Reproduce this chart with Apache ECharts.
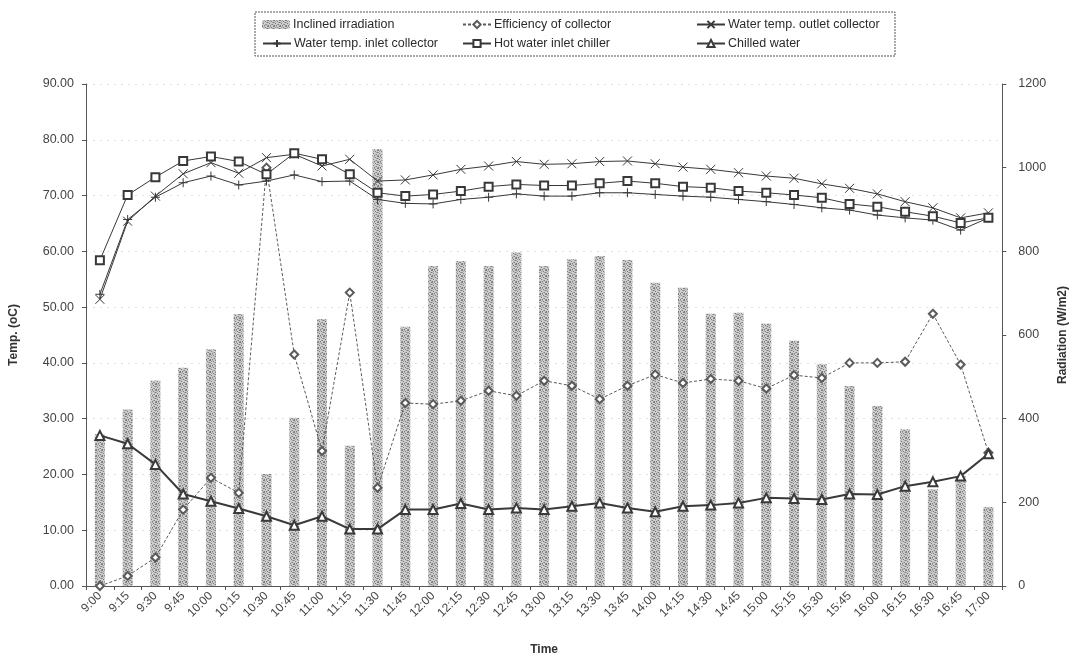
<!DOCTYPE html>
<html>
<head>
<meta charset="utf-8">
<title>Solar collector and chiller temperatures</title>
<script src="https://cdn.jsdelivr.net/npm/echarts@6/dist/echarts.min.js"></script>
<style>
  html, body { margin: 0; padding: 0; background: #ffffff; }
  #chart { width: 1077px; height: 662px; }
</style>
</head>
<body>
<div id="chart"></div>
<script>
// Time of day, every 15 minutes
const times = ['9:00','9:15','9:30','9:45','10:00','10:15','10:30','10:45','11:00','11:15','11:30','11:45',
  '12:00','12:15','12:30','12:45','13:00','13:15','13:30','13:45','14:00','14:15','14:30','14:45',
  '15:00','15:15','15:30','15:45','16:00','16:15','16:30','16:45','17:00'];

// Inclined irradiation (W/m2), right axis
const irradiation = [363, 422, 491, 522, 566, 650, 268, 402, 638, 335, 1044, 620,
  765, 777, 765, 797, 765, 781, 789, 779, 725, 713, 651, 653,
  627, 586, 530, 478, 430, 375, 231, 263, 189];

// Efficiency of collector (%), left axis
const efficiency = [0, 1.8, 5.1, 13.7, 19.4, 16.7, 75.0, 41.5, 24.2, 52.6, 17.6, 32.8,
  32.6, 33.2, 35.0, 34.1, 36.8, 35.9, 33.5, 35.9, 37.9, 36.4, 37.1, 36.8,
  35.4, 37.8, 37.3, 40.0, 40.0, 40.2, 48.8, 39.7, 23.9];

// Water temperature at collector outlet (oC)
const outletCollector = [51.4, 65.4, 69.9, 73.9, 75.9, 74.0, 76.8, 77.4, 75.3, 76.5, 72.6, 72.8,
  73.7, 74.7, 75.3, 76.1, 75.6, 75.7, 76.1, 76.2, 75.7, 75.1, 74.7, 74.1,
  73.5, 73.1, 72.1, 71.3, 70.3, 68.9, 67.8, 66.0, 66.9];

// Water temperature at collector inlet (oC)
const inletCollector = [52.3, 65.7, 69.7, 72.3, 73.5, 71.9, 72.6, 73.7, 72.5, 72.6, 69.3, 68.6,
  68.5, 69.3, 69.7, 70.3, 69.9, 69.9, 70.5, 70.5, 70.2, 69.9, 69.7, 69.3,
  68.9, 68.4, 67.8, 67.4, 66.5, 66.0, 65.6, 63.8, 66.0];

// Hot water entering the chiller (oC)
const hotWaterChiller = [58.4, 70.1, 73.3, 76.2, 77.0, 76.1, 73.8, 77.6, 76.5, 73.8, 70.5, 69.9,
  70.2, 70.8, 71.6, 72.0, 71.8, 71.8, 72.2, 72.6, 72.2, 71.6, 71.4, 70.8,
  70.5, 70.1, 69.6, 68.5, 68.0, 67.1, 66.3, 65.1, 66.0];

// Chilled water temperature (oC)
const chilledWater = [27.0, 25.5, 21.8, 16.5, 15.2, 13.9, 12.5, 10.9, 12.5, 10.2, 10.2, 13.7,
  13.7, 14.8, 13.7, 14.0, 13.7, 14.3, 14.9, 14.0, 13.3, 14.3, 14.5, 14.9,
  15.8, 15.7, 15.5, 16.5, 16.4, 17.9, 18.7, 19.7, 23.7];

// Axis ranges
const tempTicks = { min: 0, max: 90, interval: 10 };
const radTicks = { min: 0, max: 1200, interval: 200 };

// Stippled grey fill for the irradiation bars
function stipple() {
  const c = document.createElement('canvas');
  c.width = 6; c.height = 6;
  const g = c.getContext('2d');
  g.fillStyle = '#cdcdcd';
  g.fillRect(0, 0, 6, 6);
  g.fillStyle = '#7d7d7d';
  const dots = [[0,0],[3,1],[5,2],[1,3],[4,4],[2,5],[0,5],[5,0]];
  dots.forEach(d => g.fillRect(d[0], d[1], 1, 1));
  g.fillStyle = '#a4a4a4';
  [[2,0],[4,2],[1,1],[3,4],[0,2],[5,5]].forEach(d => g.fillRect(d[0], d[1], 1, 1));
  return c;
}

const ink = '#383838';
const font = 'Liberation Sans, Arial, sans-serif';

function lineSeries(name, data, symbol, size, extra) {
  return Object.assign({
    name: name,
    type: 'line',
    yAxisIndex: 0,
    data: data,
    symbol: symbol,
    symbolSize: size,
    showAllSymbol: true,
    z: 3,
    lineStyle: { color: ink, width: 1 },
    itemStyle: { color: ink, borderColor: ink, borderWidth: 1 },
    emphasis: { disabled: true },
    animation: false
  }, extra || {});
}

const chart = echarts.init(document.getElementById('chart'));

const legendSpots = [
  { name: 'Inclined irradiation', left: 262, top: 18 },
  { name: 'Efficiency of collector', left: 462, top: 18 },
  { name: 'Water temp. outlet collector', left: 696, top: 18 },
  { name: 'Water temp. inlet collector', left: 262, top: 37 },
  { name: 'Hot water inlet chiller', left: 462, top: 37 },
  { name: 'Chilled water', left: 696, top: 37 }
];

chart.setOption({
  backgroundColor: '#ffffff',
  animation: false,
  textStyle: { fontFamily: font },
  legend: legendSpots.map(s => ({
    data: [s.name],
    left: s.left,
    top: s.top,
    padding: 0,
    itemWidth: 28,
    itemHeight: 9,
    itemGap: 0,
    selectedMode: false,
    textStyle: { fontFamily: font, fontSize: 12.5, color: '#2a2a2a', padding: [0, 0, 0, -2] }
  })),
  graphic: [{
    type: 'rect',
    shape: { x: 255, y: 12, width: 640, height: 44 },
    style: { fill: 'none', stroke: '#555', lineWidth: 1, lineDash: [2, 1] },
    silent: true
  }],
  grid: { left: 86, right: 69, top: 84, bottom: 76, containLabel: false },
  xAxis: {
    type: 'category',
    data: times,
    boundaryGap: true,
    name: 'Time',
    nameLocation: 'middle',
    nameGap: 58,
    nameTextStyle: { fontFamily: font, fontSize: 12, fontWeight: 'bold', color: '#333' },
    axisLine: { lineStyle: { color: '#555', width: 1 } },
    axisTick: { show: true, length: 4, lineStyle: { color: '#555' } },
    axisLabel: { interval: 0, rotate: 45, fontFamily: font, fontSize: 12, color: '#444', margin: 8 },
    splitLine: { show: false }
  },
  yAxis: [{
    type: 'value',
    min: tempTicks.min,
    max: tempTicks.max,
    interval: tempTicks.interval,
    position: 'left',
    name: 'Temp. (oC)',
    nameLocation: 'middle',
    nameGap: 66,
    nameRotate: 90,
    nameTextStyle: { fontFamily: font, fontSize: 12, fontWeight: 'bold', color: '#333' },
    axisLine: { show: true, lineStyle: { color: '#555', width: 1 } },
    axisTick: { show: true, length: 4, lineStyle: { color: '#555' } },
    axisLabel: { formatter: v => v.toFixed(2), fontFamily: font, fontSize: 12.5, color: '#444', margin: 12 },
    splitLine: { show: true, lineStyle: { color: '#e0e0e0', type: [2, 5], width: 1 } }
  }, {
    type: 'value',
    min: radTicks.min,
    max: radTicks.max,
    interval: radTicks.interval,
    position: 'right',
    name: 'Radiation (W/m2)',
    nameLocation: 'middle',
    nameGap: 52,
    nameRotate: 90,
    nameTextStyle: { fontFamily: font, fontSize: 12, fontWeight: 'bold', color: '#333' },
    axisLine: { show: true, lineStyle: { color: '#555', width: 1 } },
    axisTick: { show: true, length: 4, lineStyle: { color: '#555' } },
    axisLabel: { formatter: v => String(v), fontFamily: font, fontSize: 12.5, color: '#444', margin: 16 },
    splitLine: { show: false }
  }],
  series: [
    {
      name: 'Inclined irradiation',
      type: 'bar',
      yAxisIndex: 1,
      data: irradiation,
      barWidth: 10,
      z: 1,
      itemStyle: { color: { image: stipple(), repeat: 'repeat' } },
      emphasis: { disabled: true },
      animation: false
    },
    lineSeries('Efficiency of collector', efficiency, 'emptyDiamond', 8, {
      lineStyle: { color: '#5a5a5a', width: 1, type: [3, 2] },
      itemStyle: { color: '#5a5a5a', borderColor: '#5a5a5a', borderWidth: 1 }
    }),
    lineSeries('Water temp. outlet collector', outletCollector, 'path://M0,0L10,10M10,0L0,10', 9),
    lineSeries('Water temp. inlet collector', inletCollector, 'path://M5,0L5,10M0,5L10,5', 9),
    lineSeries('Hot water inlet chiller', hotWaterChiller, 'emptyRect', 8),
    lineSeries('Chilled water', chilledWater, 'emptyTriangle', 9, {
      lineStyle: { color: '#3a3a3a', width: 2 },
      itemStyle: { color: '#3a3a3a', borderColor: '#3a3a3a', borderWidth: 1.3 }
    })
  ]
});
</script>
</body>
</html>
